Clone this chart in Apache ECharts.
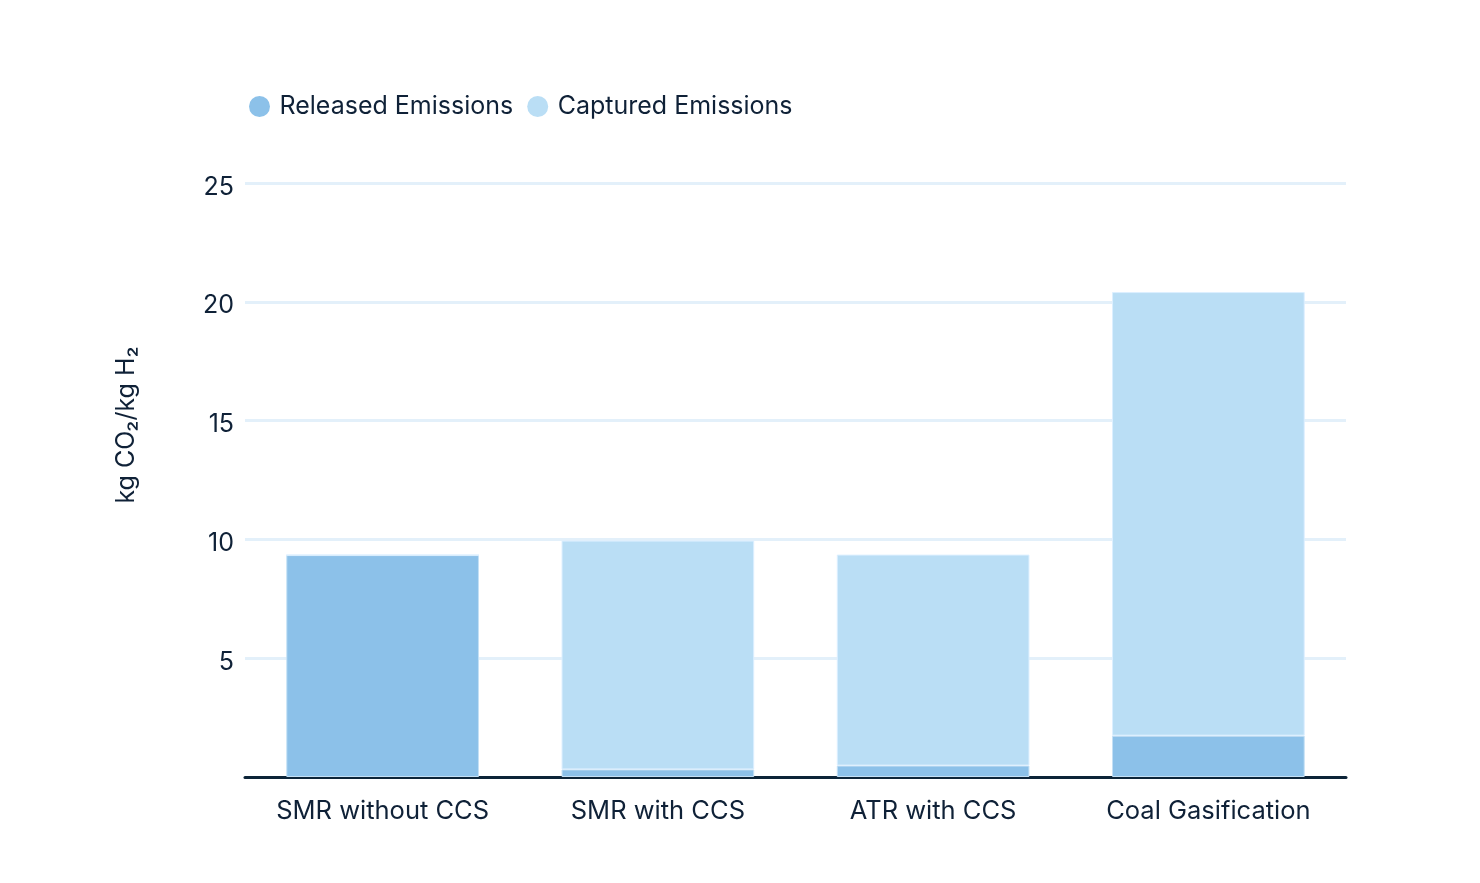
<!DOCTYPE html>
<html>
<head>
<meta charset="utf-8">
<script src="https://cdn.jsdelivr.net/npm/echarts@6/dist/echarts.min.js"></script>
<style>
html,body{margin:0;padding:0;background:#fff;}
#main{width:1480px;height:883px;}
</style>
</head>
<body>
<div id="main"></div>
<script>
const categories = ['SMR without CCS', 'SMR with CCS', 'ATR with CCS', 'Coal Gasification'];
const released = [9.34, 0.32, 0.48, 1.74];
const captured = [0, 9.63, 8.88, 18.67];
const yTicks = [0, 5, 10, 15, 20, 25];

const textColor = '#0f2137';
const font = 'Inter, "Open Sans", sans-serif';

const chart = echarts.init(document.getElementById('main'));
chart.setOption({
  animation: false,
  backgroundColor: '#ffffff',
  textStyle: { fontFamily: font, color: textColor },
  legend: {
    left: 244,
    top: 89,
    icon: 'circle',
    itemWidth: 22,
    itemHeight: 21,
    itemGap: 14,
    itemStyle: { borderWidth: 0 },
    textStyle: { fontFamily: font, fontSize: 25, color: textColor, padding: [3, 0, 0, 4] },
    data: ['Released Emissions', 'Captured Emissions']
  },
  grid: { left: 245, right: 134, top: 183, bottom: 106, containLabel: false },
  xAxis: {
    type: 'category',
    data: categories,
    axisTick: { show: false },
    axisLine: { show: true, lineStyle: { color: '#0c2438', width: 3 } },
    axisLabel: { interval: 0, hideOverlap: false, fontFamily: font, fontSize: 25.5, color: textColor, margin: 21 }
  },
  yAxis: {
    type: 'value',
    min: yTicks[0],
    max: yTicks[yTicks.length - 1],
    interval: 5,
    name: 'kg CO₂/kg H₂',
    nameLocation: 'middle',
    nameGap: 106,
    nameRotate: 90,
    nameTextStyle: { fontFamily: font, fontSize: 25, color: textColor, padding: [0, 0, 0, 110] },
    axisLine: { show: false },
    axisTick: { show: false },
    axisLabel: {
      fontFamily: font, fontSize: 25, color: textColor, margin: 11,
      formatter: v => (v === 0 ? '' : '{a|' + v + '}'),
      rich: { a: { fontFamily: font, fontSize: 25, color: textColor, padding: [8, 0, 0, 0] } }
    },
    splitLine: { lineStyle: { color: '#e3f0fa', width: 3 } }
  },
  series: [
    {
      name: 'Released Emissions',
      type: 'bar',
      stack: 'total',
      barWidth: '70%',
      data: released,
      itemStyle: { color: '#8cc1e9', borderColor: '#c4e0f5', borderWidth: 1 }
    },
    {
      name: 'Captured Emissions',
      type: 'bar',
      stack: 'total',
      barWidth: '70%',
      data: captured,
      itemStyle: { color: '#badef5', borderColor: '#dcefff', borderWidth: 1 }
    }
  ]
});
</script>
</body>
</html>
